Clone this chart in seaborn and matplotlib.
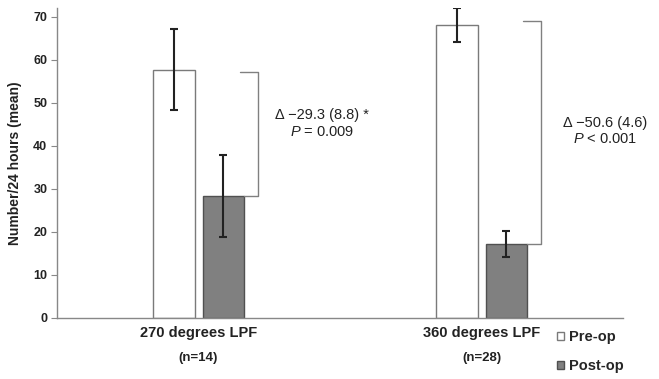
import numpy as np
import pandas as pd
import seaborn as sns
import matplotlib.pyplot as plt
from matplotlib.patches import Patch
from matplotlib.transforms import blended_transform_factory

# data
groups = ['270 degrees LPF', '360 degrees LPF']
group_n = ['(n=14)', '(n=28)']
periods = ['Pre-op', 'Post-op']
pre_mean = [57.7, 68.0]
pre_err = [9.4, 4.0]
post_mean = [28.3, 17.2]
post_err = [9.5, 3.0]
bracket_top = [57.1, 68.9]
delta_text = ['\u0394 \u221229.3 (8.8) *', '\u0394 \u221250.6 (4.6)']
p_text = ['$\\it{P}$ = 0.009', '$\\it{P}$ < 0.001']

df = pd.DataFrame({
    'group': groups * 2,
    'period': [periods[0]] * 2 + [periods[1]] * 2,
    'mean': pre_mean + post_mean,
    'err': pre_err + post_err,
})

sns.set_style('white')
plt.rcParams['font.family'] = ['Liberation Sans', 'DejaVu Sans']
plt.rcParams['mathtext.fontset'] = 'custom'
plt.rcParams['mathtext.it'] = 'Liberation Sans:italic'
plt.rcParams['mathtext.rm'] = 'Liberation Sans'

fig = plt.figure(figsize=(6.59, 3.79), dpi=100)
ax = fig.add_axes([0.0865, 0.161, 0.859, 0.818])

fills = {'Pre-op': 'white', 'Post-op': '#808080'}
edge = {'Pre-op': '#7a7a7a', 'Post-op': '#505050'}
sns.barplot(data=df, x='group', y='mean', hue='period', hue_order=periods,
            palette=fills, width=0.352, gap=0.16, errorbar=None,
            saturation=1, legend=False, ax=ax)

errs = {'Pre-op': pre_err, 'Post-op': post_err}
means = {'Pre-op': pre_mean, 'Post-op': post_mean}
bar_x = {}
for cont, per in zip(ax.containers, periods):
    xs = []
    for bar in cont:
        bar.set_edgecolor(edge[per])
        bar.set_linewidth(1.0)
        xs.append(bar.get_x() + bar.get_width() / 2)
    bar_x[per] = (xs, cont[0].get_width())
    ax.errorbar(xs, means[per], yerr=errs[per], fmt='none', ecolor='#222222',
                elinewidth=1.5, capsize=3, capthick=1.5, zorder=5)

# brackets and difference annotations
post_xs, w = bar_x['Post-op']
for i in range(len(groups)):
    x0 = post_xs[i] + w / 2
    xv = x0 + 0.047
    ax.plot([x0 - 0.015, xv, xv, x0], [bracket_top[i], bracket_top[i], post_mean[i], post_mean[i]],
            color='#808080', lw=1.0, clip_on=False)
    ax.text(i + 0.435, [47.1, 45.2][i], delta_text[i], ha='center', va='center',
            fontsize=10.5, color='#222222')
    ax.text(i + 0.435, [43.2, 41.6][i], p_text[i], ha='center', va='center',
            fontsize=10.5, color='#222222')

ax.set_xlim(-0.5, 1.5)
ax.set_ylim(0, 72)
ax.set_yticks(range(0, 71, 10))
ax.set_xlabel('')
ax.set_ylabel('Number/24 hours (mean)', fontsize=10, fontweight='bold', color='#222222', labelpad=8)
ax.set_xticks(range(len(groups)))
ax.set_xticklabels(groups, fontsize=10.5, fontweight='bold', color='#222222')
ax.tick_params(axis='x', length=0, pad=6)
ax.tick_params(axis='y', length=4, color='#888888', labelsize=9, labelcolor='#222222', pad=3, left=True)
for lab in ax.get_yticklabels():
    lab.set_fontweight('bold')

trans = blended_transform_factory(ax.transData, ax.transAxes)
for i, n in enumerate(group_n):
    ax.text(i, -0.13, n, transform=trans, ha='center', va='center',
            fontsize=9.5, fontweight='bold', color='#222222')

for s in ['top', 'right']:
    ax.spines[s].set_visible(False)
for s in ['left', 'bottom']:
    ax.spines[s].set_color('#888888')
    ax.spines[s].set_linewidth(1.0)

handles = [Patch(facecolor=fills[p], edgecolor=edge[p], linewidth=1.0) for p in periods]
ax.legend(handles, periods, loc='upper left', bbox_to_anchor=(0.825, 0.163),
          bbox_transform=fig.transFigure, frameon=False, handlelength=0.5,
          handleheight=0.5, handletextpad=0.35, labelspacing=1.0,
          prop={'weight': 'bold', 'size': 10.5})

fig.savefig('out.png', dpi=100)
